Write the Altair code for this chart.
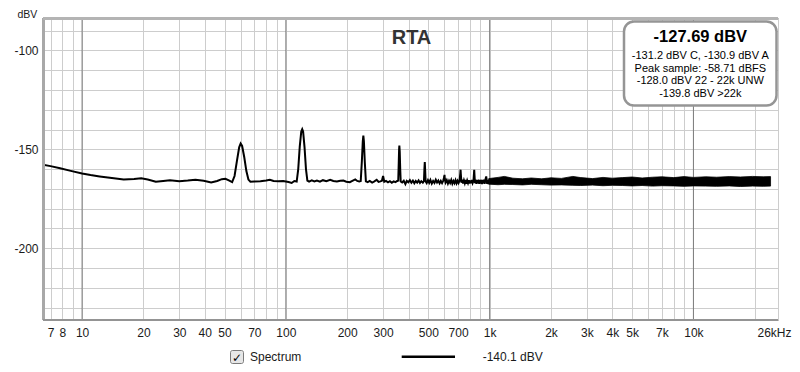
import altair as alt
import pandas as pd

# ---- spectrum line (Hz, dBV) ----
freq = [6.43, 7.0, 7.8, 8.8, 10.0, 11.0, 12.2, 14.0, 16.0, 18.0, 19.5, 21.0, 23.0, 25.0, 27.0, 30.0,
        33.0, 36.0, 39.5, 43.0, 46.0, 48.5, 50.5, 52.5, 54.5, 56.0, 57.5, 59.0, 60.0, 61.0, 62.5, 64.0,
        65.5, 67.0, 70.0, 75.0, 80.0, 83.5, 87.0, 92.0, 97.0, 103.0, 106.8, 110.0, 113.0, 115.0, 117.0,
        119.0, 120.3, 121.5, 123.5, 125.5, 127.5, 130.0, 134.0, 138.0, 142.0, 147.0, 152.0, 158.0, 165.0,
        171.0, 178.0, 185.0, 191.5, 198.0, 206.0, 212.0, 219.0, 224.0, 229.0, 233.0, 236.0, 238.5, 240.0,
        241.5, 244.0, 247.0, 252.0, 258.0, 265.0, 272.0, 279.0, 285.0, 291.0, 296.0, 300.0, 304.0, 310.0,
        317.0, 324.0, 331.0, 338.0, 345.0, 352.0, 356.0, 358.0, 359.5, 360.5, 362.0, 364.0, 366.0, 372.0,
        379.0, 386.0, 392.0, 399.0, 406.0, 413.0, 420.0, 427.0, 434.0, 441.0, 448.0, 455.0, 462.0, 470.0,
        476.0, 478.5, 480.5, 482.5, 485.0, 491.0, 498.0, 505.0, 512.0, 520.0, 528.0, 536.0, 544.0, 552.0,
        560.0, 568.0, 576.0, 584.0, 592.0, 598.5, 600.5, 602.5, 608.0, 616.0, 624.0, 632.0, 640.0, 648.0,
        656.0, 664.0, 672.0, 680.0, 688.0, 696.0, 704.0, 712.0, 718.0, 720.0, 722.0, 727.0, 734.0, 741.0,
        748.0, 755.0, 762.0, 769.0, 776.0, 783.0, 790.0, 797.0, 804.0, 811.0, 818.0, 825.0, 833.0, 838.0,
        840.0, 842.0, 847.0, 854.0, 861.0, 868.0, 875.0, 882.0, 889.0, 896.0, 903.0, 910.0, 917.0, 924.0,
        931.0, 938.0, 945.0, 952.0, 959.0, 962.0, 965.0, 972.0, 979.0, 986.0, 993.0, 1000.0]
level = [-157.8, -158.5, -159.6, -160.9, -162.2, -163.0, -163.7, -164.5, -165.2, -165.0, -164.6, -165.3,
         -166.4, -166.0, -165.6, -166.1, -165.8, -165.4, -165.9, -166.8, -166.0, -165.1, -164.9, -165.7,
         -166.6, -163.5, -156.0, -149.0, -147.1, -148.3, -154.0, -161.0, -165.3, -166.4, -166.3, -166.1,
         -165.8, -165.4, -166.0, -166.2, -166.0, -166.5, -167.0, -166.0, -166.3, -160.0, -148.5, -141.0,
         -139.8, -141.0, -149.0, -160.0, -165.8, -166.3, -165.7, -166.2, -165.8, -166.4, -165.6, -166.1,
         -165.4, -166.0, -166.3, -165.9, -165.8, -166.4, -166.6, -165.9, -165.2, -166.0, -166.3, -166.0,
         -156.0, -146.0, -143.0, -146.0, -156.5, -166.2, -166.6, -166.0, -166.8, -166.2, -165.4, -166.5,
         -166.2, -165.9, -163.5, -166.4, -166.0, -166.7, -166.1, -166.9, -166.2, -166.6, -166.0, -165.8,
         -157.0, -150.0, -148.1, -151.0, -160.0, -166.3, -166.8, -165.9, -167.6, -166.0, -166.7, -165.6,
         -166.9, -165.8, -167.2, -166.0, -166.8, -165.7, -167.0, -166.1, -166.9, -166.0, -160.0, -156.4,
         -160.5, -166.2, -167.1, -165.6, -166.9, -165.5, -167.3, -166.0, -167.0, -165.4, -166.8, -165.8,
         -167.2, -166.0, -167.1, -165.8, -164.0, -162.9, -165.0, -166.8, -165.6, -167.3, -165.9, -167.0,
         -165.5, -167.4, -166.0, -167.1, -165.6, -167.2, -165.9, -167.0, -165.8, -162.0, -160.3, -162.5,
         -166.9, -165.4, -167.3, -165.7, -167.1, -165.5, -167.4, -165.8, -167.0, -165.6, -167.3, -165.7,
         -167.2, -165.5, -167.0, -165.9, -162.0, -160.3, -162.5, -167.1, -165.4, -167.4, -165.6, -167.2,
         -165.3, -167.5, -165.6, -167.3, -165.4, -167.6, -165.5, -167.2, -165.3, -167.4, -165.6, -164.2,
         -163.7, -165.0, -167.5, -165.4, -167.6, -165.3, -167.0]

# ---- dense noise band above 1 kHz: upper / lower edges ----
band_freq = [990, 1100, 1180, 1300, 1450, 1600, 1800, 2000, 2250, 2560, 2800, 3200, 3600, 4000, 4500,
             5000, 5600, 6300, 7000, 8000, 9000, 10000, 11500, 13000, 15000, 17000, 19500, 22000, 23900]
band_hi = [-164.8, -164.2, -163.7, -164.6, -164.9, -164.5, -164.9, -164.4, -164.7, -163.7, -164.3, -164.8,
           -164.2, -164.6, -164.3, -164.0, -164.5, -164.1, -163.9, -164.3, -163.8, -164.2, -163.9, -164.1,
           -163.8, -164.0, -163.7, -163.9, -163.8]
band_lo = [-167.6, -167.9, -167.7, -167.8, -168.0, -167.7, -167.9, -168.1, -168.0, -168.2, -168.3, -168.1,
           -168.4, -168.2, -168.3, -168.5, -168.3, -168.6, -168.4, -168.5, -168.7, -168.5, -168.6, -168.7,
           -168.5, -168.8, -168.6, -168.7, -168.6]

# ---- axes ----
grid_freqs = [7, 8, 9, 10, 20, 30, 40, 50, 60, 70, 80, 90, 100, 200, 300, 400, 500, 600, 700, 800, 900,
              1000, 2000, 3000, 4000, 5000, 6000, 7000, 8000, 9000, 10000, 20000, 26000]
decades = [10, 100, 1000, 10000]
x_labels = [7, 8, 10, 20, 30, 40, 50, 70, 100, 200, 300, 500, 700, 1000, 2000, 3000, 4000, 5000, 7000,
            10000, 26000]
y_grid = [-230, -220, -210, -200, -190, -180, -170, -160, -150, -140, -130, -120, -110, -100, -90]
y_labels = [-100, -150, -200]

# ---- texts ----
title_text = "RTA"
unit_text = "dBV"
box_main = "-127.69 dBV"
box_lines = ["-131.2 dBV C, -130.9 dBV A", "Peak sample: -58.71 dBFS", "-128.0 dBV 22 - 22k UNW",
             "-139.8 dBV >22k"]
legend_name = "Spectrum"
legend_value = "-140.1 dBV"

W, H = 735, 302
FONT = "Liberation Sans"

x_label_expr = (
    "indexof([" + ",".join(str(v) for v in x_labels) + "], datum.value) < 0 ? '' : "
    "(datum.value == 26000 ? '26kHz' : (datum.value >= 1000 ? (datum.value/1000) + 'k' : '' + datum.value))"
)
y_label_expr = "indexof([" + ",".join(str(v) for v in y_labels) + "], datum.value) < 0 ? '' : '' + datum.value"

xscale = alt.Scale(type="log", domain=[6.43, 26000], nice=False)
yscale = alt.Scale(domain=[-236.3, -83.6], nice=False, zero=False)
xaxis = alt.Axis(values=grid_freqs, labelExpr=x_label_expr, grid=True, gridColor="#cdcdcd", ticks=False,
                 domain=False, labelOverlap=False, labelFlush=False, labelBound=False, labelPadding=7,
                 labelFontSize=12, labelColor="#1a1a1a", labelFont=FONT, title=None,
                 labelOffset=alt.condition("datum.value == 26000", alt.value(-4), alt.value(0)))
yaxis = alt.Axis(values=y_grid, labelExpr=y_label_expr, grid=True, gridColor="#cdcdcd", ticks=False,
                 domain=False, labelOverlap=False, labelPadding=5, labelFontSize=12, labelColor="#1a1a1a",
                 labelFont=FONT, title=None)

df_line = pd.DataFrame({"freq": freq, "level": level})
df_band = pd.DataFrame({"freq": band_freq, "level": band_hi, "lo": band_lo})
df_dec = pd.DataFrame({"freq": decades})
one = pd.DataFrame({"a": [0]})

xenc = alt.X("freq:Q", scale=xscale, axis=xaxis)
yenc = alt.Y("level:Q", scale=yscale, axis=yaxis)

decade_rules = alt.Chart(df_dec).mark_rule(color="#7c7c7c", strokeWidth=1).encode(x=xenc)

band = alt.Chart(df_band).mark_area(color="black", stroke="black", strokeWidth=0.8, clip=True).encode(
    x=xenc, y=yenc, y2="lo:Q")

line = alt.Chart(df_line).mark_line(color="black", strokeWidth=2, clip=True).encode(x=xenc, y=yenc)

# frame shading (left / top / bottom)
frame_left = alt.Chart(one).mark_rule(color="#a8a8a8", strokeWidth=3).encode(
    x=alt.value(0.5), y=alt.value(0), y2=alt.value(H))
frame_top = alt.Chart(one).mark_rule(color="#b4b4b4", strokeWidth=3).encode(
    x=alt.value(0), x2=alt.value(W), y=alt.value(0.5))
frame_bottom = alt.Chart(one).mark_rule(color="#949494", strokeWidth=2).encode(
    x=alt.value(0), x2=alt.value(W), y=alt.value(H))

title = alt.Chart(one).mark_text(font=FONT, fontSize=20, fontWeight="bold", color="#333333",
                                  align="center", baseline="alphabetic").encode(
    x=alt.value(368.5), y=alt.value(26), text=alt.value(title_text))
unit = alt.Chart(one).mark_text(font=FONT, fontSize=10.5, color="#1a1a1a", align="left",
                                 baseline="alphabetic").encode(
    x=alt.value(-25.5), y=alt.value(0), text=alt.value(unit_text))

box = alt.Chart(one).mark_rect(cornerRadius=10, fill="white", stroke="#959595", strokeWidth=2.5).encode(
    x=alt.value(581), x2=alt.value(733.5), y=alt.value(3.5), y2=alt.value(87.5))
box_title = alt.Chart(one).mark_text(font=FONT, fontSize=16.5, fontWeight="bold", color="black",
                                      align="center", baseline="alphabetic").encode(
    x=alt.value(657.3), y=alt.value(24.3), text=alt.value(box_main))
box_text_layers = []
for i, t in enumerate(box_lines):
    box_text_layers.append(
        alt.Chart(one).mark_text(font=FONT, fontSize=11, color="black", align="center",
                                 baseline="alphabetic").encode(
            x=alt.value(657.3), y=alt.value(41 + 12.6 * i), text=alt.value(t)))

# legend
check_box = alt.Chart(one).mark_rect(cornerRadius=2, fill="#e6e6e6", stroke="#7a7a7a", strokeWidth=1).encode(
    x=alt.value(187.5), x2=alt.value(200.5), y=alt.value(332.5), y2=alt.value(345.5))
check_mark = alt.Chart(one).mark_text(font="DejaVu Sans", fontSize=12, fontWeight="bold", color="black",
                                       align="center", baseline="middle").encode(
    x=alt.value(194), y=alt.value(339.5), text=alt.value("\u2713"))
leg_name = alt.Chart(one).mark_text(font=FONT, fontSize=12, color="#1a1a1a", align="left",
                                     baseline="alphabetic").encode(
    x=alt.value(207), y=alt.value(342.7), text=alt.value(legend_name))
leg_line = alt.Chart(one).mark_rule(color="black", strokeWidth=2.5).encode(
    x=alt.value(358.7), x2=alt.value(412), y=alt.value(338.7))
leg_val = alt.Chart(one).mark_text(font=FONT, fontSize=12, color="#1a1a1a", align="left",
                                    baseline="alphabetic").encode(
    x=alt.value(439.7), y=alt.value(342.7), text=alt.value(legend_value))

chart = alt.layer(
    decade_rules, band, line, frame_left, frame_top, frame_bottom, title, unit, box, box_title,
    *box_text_layers, check_box, check_mark, leg_name, leg_line, leg_val
).properties(
    width=W, height=H,
    padding={"left": 35, "top": 10, "right": 14, "bottom": 48},
    autosize=alt.AutoSizeParams(type="none"),
    background="white",
).configure_view(stroke="#a0a0a0", strokeWidth=1).configure_axis(labelFont=FONT)

chart.save("out.html", embed_options={"renderer": "svg", "actions": False})
